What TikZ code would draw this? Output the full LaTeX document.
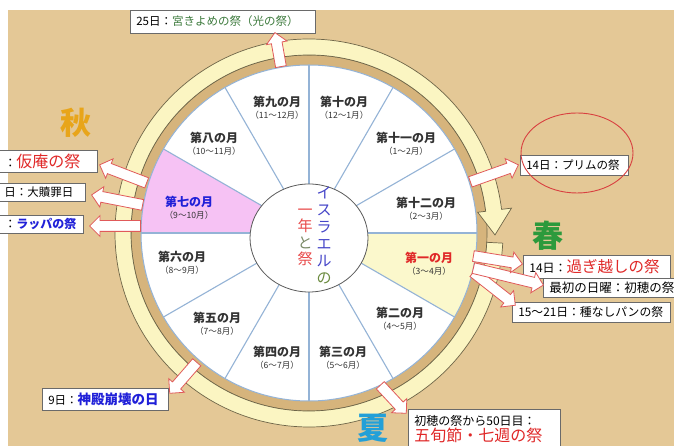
\documentclass[tikz,border=0pt]{standalone}
\usepackage{fontspec}
\setmainfont{Noto Sans CJK JP}
\usetikzlibrary{shapes.arrows,shapes.geometric,calc}
\definecolor{bgtan}{HTML}{E4C896}
\definecolor{bandtan}{HTML}{D6B47C}
\definecolor{ringyel}{HTML}{FBF5C2}
\definecolor{ringline}{HTML}{6E6548}
\definecolor{spoke}{HTML}{94B3D6}
\definecolor{pinkfill}{HTML}{F6C2F4}
\definecolor{yelfill}{HTML}{FBF8CC}
\definecolor{arrowred}{HTML}{E05A5A}
\definecolor{txtred}{HTML}{E02828}
\definecolor{txtblue}{HTML}{2020D8}
\definecolor{txtgreen}{HTML}{3C7A3C}
\definecolor{autumn}{HTML}{E8A51A}
\definecolor{spring}{HTML}{2C9A3C}
\definecolor{summer}{HTML}{23A0D8}
\definecolor{boxline}{HTML}{6A6A6A}
\definecolor{mtxt}{HTML}{333333}
\definecolor{hubblue}{HTML}{4545C8}
\definecolor{hubolive}{HTML}{6B8B3F}
\definecolor{hubred}{HTML}{E84848}
\definecolor{hubgrey}{HTML}{7B8B68}
\definecolor{hubline}{HTML}{5A5A5A}
\definecolor{ellred}{HTML}{D84040}
\tikzset{
  mmain/.style={inner sep=0pt, font=\fontsize{12}{14}\selectfont\bfseries},
  msub/.style={inner sep=0pt, font=\fontsize{8.6}{9}\selectfont, text=mtxt},
  box/.style={draw=boxline, fill=white, line width=0.7pt, anchor=west, inner xsep=6pt, inner ysep=0pt, align=left, text=black},
  farrow/.style={single arrow, draw=arrowred, fill=white, line width=0.8pt, inner xsep=0pt, inner ysep=5pt, single arrow head extend=5pt, single arrow tip angle=90},
  season/.style={inner sep=0pt, font=\fontsize{31}{31}\selectfont\bfseries},
  hubtxt/.style={inner sep=0pt, align=center},
  spokeline/.style={draw=spoke, line width=1.1pt},
  ringst/.style={fill=ringyel, draw=ringline, line width=0.7pt},
}
\newcommand\blockarrow[2]{\path let \p1=(#1), \p2=(#2), \n1={atan2(\y2-\y1,\x2-\x1)}, \n2={veclen(\x2-\x1,\y2-\y1)} in node[farrow, minimum height=\n2*1pt, rotate=\n1, anchor=tail] at (\p1) {};}
\newcommand\mlab[6]{\node[mmain, text=#6] (#1) at (#2,#3) {#4}; \node[msub] (#1s) at (#2,#3-13.5) {#5};}
\newcommand\fs[1]{\fontsize{#1}{#1}\selectfont}
\begin{document}
\begin{tikzpicture}[x=1pt,y=1pt]
\useasboundingbox (0,0) rectangle (674,446);
\fill[white] (0,0) rectangle (674,446);
\fill[bgtan] (8,0) rectangle (674,436);
\begin{scope}[shift={(309,213)}]
  \fill[bandtan] (0,0) circle[radius=178];
  \draw[ringline, line width=0.6pt] (0,0) circle[radius=178];
  \draw[ringst] (-3:178) -- (-3:194) arc[start angle=-3, end angle=-353, radius=194]
     -- (-353:204) -- (-360.6:186) -- (-353:170) -- (-353:178)
     arc[start angle=-353, end angle=-3, radius=178] -- cycle;
  \fill[white] (0,0) circle[radius=168];
  \fill[pinkfill] (0,0) -- (150:168) arc[start angle=150, end angle=180, radius=168] -- cycle;
  \fill[yelfill] (0,0) -- (-30:168) arc[start angle=-30, end angle=0, radius=168] -- cycle;
  \foreach \a in {0,30,...,330} \draw[spokeline] (0,0) -- (\a:168);
  \draw[spoke, line width=1pt] (0,0) circle[radius=168];
\end{scope}
\node[draw=hubline, line width=0.8pt, fill=white, ellipse, minimum width=118pt, minimum height=108pt, inner sep=0pt] (hub) at (309,208) {};
\node[hubtxt, font=\fontsize{15}{17}\selectfont] (hubR) at (324,210.5) {{\color{hubblue}イ}\\{\color{hubblue}ス}\\{\color{hubblue}ラ}\\{\color{hubblue}エ}\\{\color{hubblue}ル}\\{\color{hubolive}の}};
\node[hubtxt, font=\fontsize{15}{16.3}\selectfont] (hubL) at (305,208.5) {{\color{hubred}一}\\{\color{hubred}年}\\{\color{hubgrey}と}\\{\color{hubred}祭}};
% month labels
\mlab{m9}{277}{344}{第九の月}{（11～12月）}{mtxt}
\mlab{m10}{344}{344}{第十の月}{（12～1月）}{mtxt}
\mlab{m8}{214}{308}{第八の月}{（10～11月）}{mtxt}
\mlab{m11}{406}{308}{第十一の月}{（1～2月）}{mtxt}
\mlab{m7}{189}{244}{第七の月}{（9～10月）}{txtblue}
\mlab{m12}{426}{243}{第十二の月}{（2～3月）}{mtxt}
\mlab{m6}{182}{189}{第六の月}{（8～9月）}{mtxt}
\mlab{m1}{429}{188}{第一の月}{（3～4月）}{txtred}
\mlab{m5}{217}{128}{第五の月}{（7～8月）}{mtxt}
\mlab{m2}{400}{133}{第二の月}{（4～5月）}{mtxt}
\mlab{m4}{277}{94}{第四の月}{（6～7月）}{mtxt}
\mlab{m3}{343}{94}{第三の月}{（5～6月）}{mtxt}
% seasons
\node[season, text=autumn] (aki) at (76,323) {秋};
\node[season, text=spring] (haru) at (548,210) {春};
\node[season, text=summer] (natsu) at (373,18) {夏};
% boxes
\node[box, minimum height=23pt, text width=173pt, font=\fs{11.5}] (b1) at (130,424.5) {25日：{\color{txtgreen}宮きよめの祭（光の祭）}};
\node[box, minimum height=22pt, text width=87pt] (b2) at (-2,285) {{\fs{12}：}{\fs{16}\color{txtred}仮庵の祭}};
\node[box, minimum height=18pt, text width=75pt, font=\fs{11.5}] (b3) at (-2,254) {日：大贖罪日};
\node[box, minimum height=18pt, text width=73pt] (b4) at (-2,222) {{\fs{12}：}{\fs{12}\bfseries\color{txtblue}ラッパの祭}};
\node[box, minimum height=20pt, text width=96pt, font=\fs{11.5}] (b5) at (520,281) {14日：プリムの祭};
\node[box, minimum height=23pt, text width=135pt] (b6) at (523,179.5) {{\fs{12}14日：}{\fs{15.5}\color{txtred}過ぎ越しの祭}};
\node[box, minimum height=19pt, text width=130pt, font=\fs{12.5}] (b7) at (543,158.5) {最初の日曜：初穂の祭};
\node[box, minimum height=20pt, text width=146pt, font=\fs{11.8}] (b8) at (512,134) {15～21日：種なしパンの祭};
\node[box, minimum height=22pt, text width=114pt] (b9) at (42,47) {{\fs{11.5}9日：}{\fs{13.5}\bfseries\color{txtblue}神殿崩壊の日}};
\node[box, anchor=north west, minimum height=40pt, inner ysep=3pt, text width=140pt] (b10) at (408,37) {{\fs{12}初穂の祭から50日目：}\\[1pt]{\fs{16}\color{txtred}五旬節・七週の祭}};
\node[draw=ellred, line width=0.9pt, ellipse, minimum width=112pt, minimum height=80pt, inner sep=0pt] (purim) at (577,293) {};
% arrows
\coordinate (t1) at (281,379); \coordinate (h1) at (275,413);
\coordinate (t2) at (147,263); \coordinate (h2) at (100,281);
\coordinate (t3) at (143,241); \coordinate (h3) at (92,251);
\coordinate (t4) at (141,220); \coordinate (h4) at (90,220);
\coordinate (t5) at (470,264); \coordinate (h5) at (518,281);
\coordinate (t8) at (473,174); \coordinate (h8) at (515,141);
\coordinate (t7) at (473,178); \coordinate (h7) at (543,161);
\coordinate (t6) at (473,190); \coordinate (h6) at (522,182);
\coordinate (t9) at (197,84); \coordinate (h9) at (170,53);
\coordinate (t10) at (380,61); \coordinate (h10) at (406,33);
\blockarrow{t1}{h1}
\blockarrow{t2}{h2}
\blockarrow{t3}{h3}
\blockarrow{t4}{h4}
\blockarrow{t5}{h5}
\blockarrow{t8}{h8}
\blockarrow{t7}{h7}
\blockarrow{t6}{h6}
\blockarrow{t9}{h9}
\blockarrow{t10}{h10}
\end{tikzpicture}
\end{document}
